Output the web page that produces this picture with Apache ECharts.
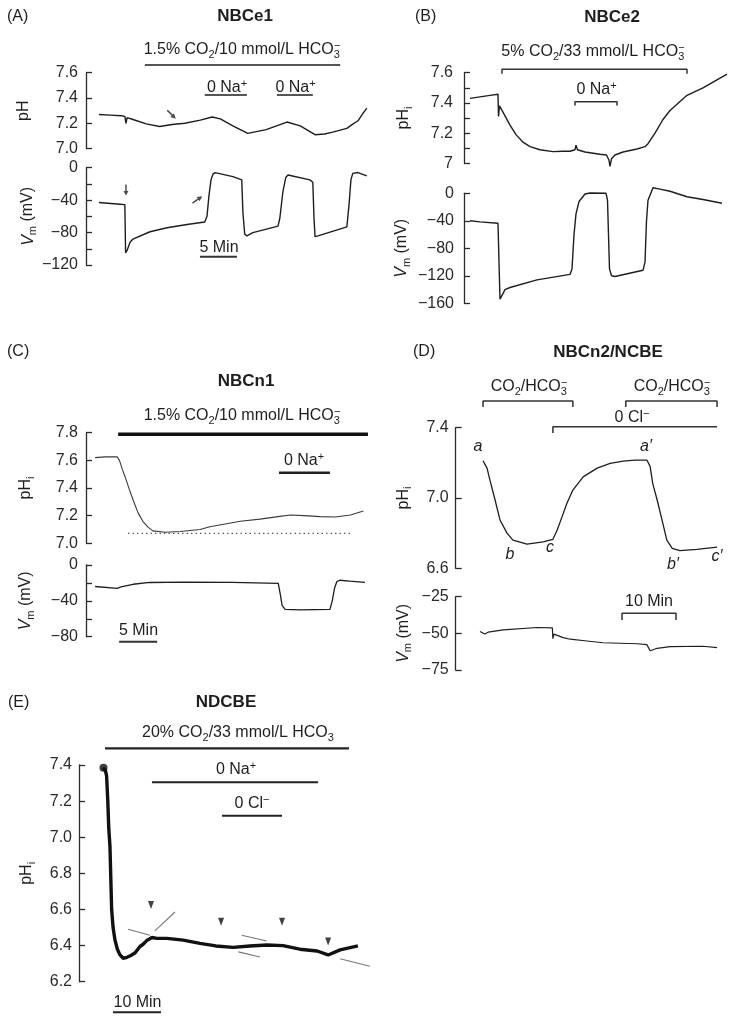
<!DOCTYPE html>
<html><head><meta charset="utf-8">
<script src="https://cdn.jsdelivr.net/npm/echarts@6/dist/echarts.min.js"></script>
<style>html,body{margin:0;padding:0;background:#fff}#c{width:737px;height:1023px}</style>
</head><body><div id="c"></div>
<script>
// ===== DATA (time in min, pH units, membrane potential in mV) =====
// Panel A  NBCe1
const A_pH = [[0,7.27],[1.5,7.265],[3.0,7.26],[3.5,7.255],[3.65,7.20],[3.8,7.245],[4.6,7.23],[6.4,7.195],[8.2,7.175],[9.9,7.19],[11.6,7.20],[13.7,7.225],[15.3,7.25],[16.4,7.235],[18.1,7.18],[20.1,7.12],[22.6,7.15],[25.4,7.21],[27.2,7.18],[29.2,7.11],[30.5,7.115],[31.6,7.13],[33.5,7.16],[34.2,7.19],[35.0,7.22],[35.7,7.28],[36.2,7.32]];
const A_Vm = [[0,-43],[2.84,-45],[3.5,-45.5],[3.6,-105],[3.8,-102],[4.2,-92],[4.6,-88],[6.9,-79],[9.2,-74],[11.9,-70],[14.3,-67],[14.6,-60],[14.86,-35],[15.14,-15],[15.4,-8],[15.7,-6],[18.1,-11],[19.3,-15],[19.45,-55],[19.7,-82],[20.0,-84],[20.8,-80],[24.2,-72],[24.45,-62],[24.85,-30],[25.25,-12],[25.55,-9],[28.5,-15],[28.9,-18],[29.05,-60],[29.2,-85],[29.6,-84],[33.5,-73],[33.8,-45],[34.05,-15],[34.3,-7],[35.0,-6],[36.2,-10]];
const A_arrow_pH = [[9.8,7.27]];
const A_arrow_Vm_down = [[3.65,-27.5]];
const A_arrow_Vm_up = [[13.3,-39.5]];
const A_co2 = [6.2,32.6];
const A_na = [[14.3,20.0],[24.05,28.9]];
const A_scale = [13.65,18.65];
// Panel B  NBCe2
const B_pH = [[0,7.43],[2,7.44],[4,7.45],[5.6,7.457],[5.7,7.31],[5.9,7.38],[6.4,7.35],[8,7.253],[9.2,7.19],[10.6,7.14],[12,7.11],[14,7.09],[16.6,7.077],[18.6,7.08],[20,7.08],[21,7.09],[21.2,7.12],[21.5,7.09],[23,7.075],[26,7.06],[27.3,7.055],[27.8,7.02],[28,6.98],[28.3,7.03],[29,7.055],[30.6,7.075],[33.4,7.095],[35,7.11],[35.6,7.13],[37,7.20],[38.6,7.29],[40,7.35],[43.4,7.45],[46.6,7.50],[51.4,7.59]];
const B_Vm = [[0,-40],[2,-41.5],[5.6,-43.5],[5.8,-100],[6.0,-154],[6.6,-146],[7.0,-140],[8,-137],[13.4,-126],[20,-118],[20.4,-110],[20.8,-60],[21.2,-30],[21.8,-12],[23,-1],[24,0.5],[27.2,0],[27.5,-10],[27.9,-110],[28.3,-120],[29,-121],[34.6,-112],[35.0,-100],[35.3,-40],[35.6,-10],[36.6,8],[38,6],[40,3],[43.4,-5],[46.6,-9],[50.4,-14.5]];
const B_co2 = [6.4,43.4];
const B_na = [21,29.4];
// Panel C  NBCn1
const C_pH = [[0,7.62],[1.3,7.625],[2.9,7.625],[3.2,7.60],[3.55,7.54],[3.95,7.48],[4.5,7.39],[5.0,7.313],[5.65,7.22],[6.3,7.157],[7.0,7.115],[7.6,7.09],[9.2,7.08],[11.2,7.085],[13.8,7.10],[15.1,7.12],[17.1,7.14],[19.1,7.16],[21.7,7.175],[24.3,7.195],[25.7,7.205],[27.5,7.2],[29.6,7.193],[31.6,7.19],[33.6,7.205],[35.3,7.234]];
const C_minLine = [[4.34,7.072],[33.95,7.072]];
const C_Vm = [[0,-24],[2.9,-26],[3.4,-24.5],[5,-21.5],[7.2,-19.5],[12,-19],[18,-19.3],[24.1,-20.5],[24.35,-32],[24.6,-45],[25,-49.5],[27,-50],[30.9,-49.5],[31.2,-40],[31.5,-26],[31.8,-18.6],[32.2,-17],[33.5,-18],[35.5,-19.5]];
const C_co2 = [3.03,35.9];
const C_na = [24.2,30.9];
const C_scale = [3.16,8.16];
// Panel D  NBCn2/NCBE
const D_pH = [[0.56,7.212],[0.93,7.205],[1.3,7.17],[1.85,7.10],[2.78,6.99],[3.7,6.875],[5.0,6.80],[6.1,6.76],[8.7,6.737],[11.7,6.75],[13.5,6.765],[14.3,6.818],[15.2,6.894],[16.1,6.97],[17.2,7.045],[19.1,7.12],[21.7,7.17],[24.1,7.197],[26.5,7.21],[28.7,7.216],[30.9,7.216],[31.5,7.18],[32.0,7.08],[32.8,6.99],[33.7,6.875],[34.6,6.76],[35.6,6.714],[37.0,6.70],[40.2,6.708],[43.9,6.72]];
const D_Vm = [[0,-48.8],[0.9,-50.5],[1.5,-49.2],[4.3,-47.6],[10.6,-46],[13.4,-46.3],[13.5,-53.6],[13.7,-50.5],[15.4,-52.9],[16.7,-54],[19.8,-55.2],[22.8,-56.4],[29.1,-57.1],[30.9,-57.7],[31.5,-61.9],[32.8,-60.2],[35.2,-59],[41.3,-58.8],[43.9,-59.8]];
const D_co2 = [[0.56,17.2],[27.0,43.9]];
const D_cl = [13.5,43.9];
const D_scale = [26.3,36.3];
// Panel E  NDCBE
const E_pH = [[0,7.385],[0.5,7.37],[0.75,7.34],[1.0,7.2],[1.2,7.05],[1.45,6.95],[1.8,6.6],[2.1,6.5],[2.5,6.43],[3.0,6.38],[3.5,6.35],[4.2,6.33],[5.0,6.335],[5.8,6.345],[6.7,6.36],[7.7,6.395],[8.3,6.406],[9.2,6.43],[10.2,6.445],[11.2,6.44],[13.3,6.44],[16.7,6.43],[20.2,6.412],[23.5,6.398],[27.1,6.39],[30.6,6.398],[34.2,6.403],[37.5,6.40],[41,6.38],[44.6,6.37],[46.9,6.348],[49.4,6.376],[53.1,6.398]];
const E_start = [[0.1,7.385]];
const E_marks = [[10,6.625],[24.6,6.532],[37.3,6.532],[46.9,6.422]];
const E_tangents = [[[5.2,6.490],[9.8,6.457]],[[10.8,6.481],[15.0,6.586]],[[28.9,6.457],[34.1,6.425]],[[28.2,6.365],[32.7,6.337]],[[49.4,6.327],[55.6,6.286]]];
const E_co2 = [0.42,51.25];
const E_na = [10.2,44.8];
const E_cl = [24.8,37.3];
const E_scale = [2.08,12.08];

// ===== STYLE / LAYOUT =====
const FF = '"Liberation Sans", Arial, Helvetica, sans-serif';
const INK = '#1e1e1e';
const AX = '#2a2a2a';
const RICH_G = {
  sub: {fontFamily: FF, fontSize: 11, verticalAlign: 'bottom', lineHeight: 10, fill: INK},
  sup: {fontFamily: FF, fontSize: 11, verticalAlign: 'top', lineHeight: 10, fill: INK},
  supk: {fontFamily: FF, fontSize: 11, verticalAlign: 'top', lineHeight: 10, fill: INK, padding: [0, 0, 0, -6]}
};
const RICH_N = {
  sub: {fontFamily: FF, fontSize: 11, verticalAlign: 'bottom', lineHeight: 10, color: INK},
  it: {fontFamily: FF, fontSize: 16, fontStyle: 'italic', lineHeight: 20, color: INK}
};

const grids = [
  {left:86, top:72.7, width:286.75, height:75.9},
  {left:86, top:167.7, width:286.75, height:97.3},
  {left:464, top:72.7, width:266, height:90.6},
  {left:464, top:193.3, width:266, height:110},
  {left:86, top:432.7, width:282.72, height:110.6},
  {left:86, top:565, width:282.72, height:71.7},
  {left:455.7, top:427.7, width:264.6, height:140.6},
  {left:455.7, top:596.7, width:264.6, height:73.3},
  {left:79, top:765, width:292.8, height:216.7}
].map(g => Object.assign({containLabel:false, outerBoundsMode:'none'}, g));
const xr = [[-1.75,37],[-1.75,37],[-1.2,52],[-1.2,52],[-1.2,36],[-1.2,36],[-4.5,44.5],[-4.5,44.5],[-5,56]];
const xAxes = xr.map((r,i) => ({type:'value', gridIndex:i, min:r[0], max:r[1], show:false}));

const minus = s => String(s).replace('-', '\u2212');
const f1 = v => v.toFixed(1);
function yAx(g, min, max, interval, fmt, name, nameGap, margin) {
  return {type:'value', gridIndex:g, min, max, interval, position:'left',
    axisLine:{show:true, onZero:false, lineStyle:{color:AX, width:1.3}},
    axisTick:{show:true, inside:true, length:6, lineStyle:{color:AX, width:1.3}},
    splitLine:{show:false},
    axisLabel:{show:true, margin, fontFamily:FF, fontSize:16, color:AX, formatter:fmt},
    name, nameLocation:'middle', nameGap, nameRotate:90,
    nameTextStyle:{fontFamily:FF, fontSize:16, color:INK, lineHeight:20, rich:RICH_N}};
}
const yAxes = [
  yAx(0, 7.0, 7.6, 0.2, f1, 'pH', 52, 8),
  yAx(1, -120, 0, 20, v => (Math.round(v) % 40 === 0 ? minus(Math.round(v)) : ''), '{it|V}{sub|m} (mV)', 47, 8),
  yAx(2, 7.0, 7.6, 0.1, v => (Math.round(v*10) % 2 === 0 ? (Math.abs(v-7) < 1e-6 ? '7' : f1(v)) : ''), 'pH{sub|i}', 50, 11),
  yAx(3, -160, 0, 40, v => minus(Math.round(v)), '{it|V}{sub|m} (mV)', 52, 10),
  yAx(4, 7.0, 7.8, 0.2, f1, 'pH{sub|i}', 50, 8),
  yAx(5, -80, 0, 20, v => (Math.round(v) % 40 === 0 ? minus(Math.round(v)) : ''), '{it|V}{sub|m} (mV)', 50, 8),
  yAx(6, 6.6, 7.4, 0.4, f1, 'pH{sub|i}', 42, 7),
  yAx(7, -75, -25, 25, v => minus(Math.round(v)), '{it|V}{sub|m} (mV)', 42, 7),
  yAx(8, 6.2, 7.4, 0.2, f1, 'pH{sub|i}', 42, 7)
];

function line(g, data, color, width, extra) {
  return Object.assign({type:'line', xAxisIndex:g, yAxisIndex:g, data, symbol:'none', showSymbol:false,
    clip:false, silent:true, animation:false, lineStyle:{color, width}, z:3}, extra || {});
}
function bar(g, iv, y, tick, w, color, ends) {
  const a = iv[0], b = iv[1];
  let d;
  if (!tick) d = [[a,y],[b,y]];
  else if (ends === 'left') d = [[a,y-tick],[a,y],[b,y]];
  else d = [[a,y-tick],[a,y],[b,y],[b,y-tick]];
  return line(g, d, color, w, {z:2});
}
const ARROW = 'path://M2,0 L4,5 L2.6,5 L2.6,12 L1.4,12 L1.4,5 L0,5 Z';
function marks(g, data, symbol, size, rot, color) {
  return {type:'scatter', xAxisIndex:g, yAxisIndex:g, data, symbol, symbolSize:size, symbolRotate:rot,
    clip:false, silent:true, animation:false, itemStyle:{color}, z:4};
}

const series = [
  // A
  line(0, A_pH, INK, 1.4), line(1, A_Vm, INK, 1.4),
  bar(0, A_co2, 7.661, 0, 2.2, '#555'),
  bar(0, A_na[0], 7.424, 0, 2, '#555'), bar(0, A_na[1], 7.424, 0, 2, '#555'),
  bar(1, A_scale, -109.9, 0, 2, '#333'),
  marks(0, A_arrow_pH, ARROW, [5,12], 225, INK),
  marks(1, A_arrow_Vm_down, ARROW, [5,11], 180, INK),
  marks(1, A_arrow_Vm_up, ARROW, [5,12], 305, INK),
  // B
  line(2, B_pH, INK, 1.4), line(3, B_Vm, INK, 1.4),
  bar(2, B_co2, 7.623, 0.03, 1.5, '#333'),
  bar(2, B_na, 7.408, 0.025, 1.5, '#333'),
  // C
  line(4, C_pH, '#3a3a3a', 1.1), line(5, C_Vm, INK, 1.3),
  line(4, C_minLine, '#444', 1.3, {lineStyle:{color:'#444', width:1.3, type:[1.3,3.2]}}),
  bar(4, C_co2, 7.788, 0, 3.5, '#111'),
  bar(4, C_na, 7.51, 0, 2.5, '#222'),
  bar(5, C_scale, -85.6, 0, 2, '#333'),
  // D
  line(6, D_pH, INK, 1.3), line(7, D_Vm, INK, 1.2),
  bar(6, D_co2[0], 7.552, 0.034, 1.5, '#333'), bar(6, D_co2[1], 7.552, 0.034, 1.5, '#333'),
  bar(6, D_cl, 7.406, 0.036, 1.5, '#333', 'left'),
  bar(7, D_scale, -36.3, 4.6, 1.5, '#333'),
  // E
  line(8, E_pH, '#111', 3.4),
  marks(8, E_start, 'circle', 8, 0, '#111'),
  marks(8, E_marks, 'triangle', [6,8], 180, '#111'),
  bar(8, E_co2, 7.4925, 0, 2.2, '#222'),
  bar(8, E_na, 7.304, 0, 2, '#222'),
  bar(8, E_cl, 7.119, 0, 2, '#222'),
  bar(8, E_scale, 6.031, 0, 2, '#222')
].concat(E_tangents.map(seg => line(8, seg, '#777', 1.1, {z:2})));

function txt(text, x, y, o) {
  return {type:'text', x, y, silent:true, z:10,
    style:Object.assign({text, fontSize:16, fontFamily:FF, fill:INK, align:'center', verticalAlign:'middle', lineHeight:20, rich:RICH_G}, o || {})};
}
const B = {fontWeight:'bold', fontSize:17};
const L = {align:'left'};
const I = {fontStyle:'italic'};
const graphics = [
  txt('(A)', 7, 17, L), txt('(B)', 415, 17, L), txt('(C)', 7, 352, L), txt('(D)', 413, 352, L), txt('(E)', 8, 703, L),
  txt('NBCe1', 245, 16, B), txt('NBCe2', 612, 17, B), txt('NBCn1', 246, 381, B), txt('NBCn2/NCBE', 608, 352, B), txt('NDCBE', 226, 702, B),
  txt('1.5% CO{sub|2}/10 mmol/L HCO{sub|3}{supk|\u2212}', 242, 50),
  txt('0 Na{sup|+}', 227, 88), txt('0 Na{sup|+}', 295.5, 88), txt('5 Min', 219, 248),
  txt('5% CO{sub|2}/33 mmol/L HCO{sub|3}{supk|\u2212}', 593, 52), txt('0 Na{sup|+}', 596.5, 90),
  txt('1.5% CO{sub|2}/10 mmol/L HCO{sub|3}{supk|\u2212}', 242, 416), txt('0 Na{sup|+}', 304, 461), txt('5 Min', 138.5, 631),
  txt('CO{sub|2}/HCO{sub|3}{supk|\u2212}', 529, 387), txt('CO{sub|2}/HCO{sub|3}{supk|\u2212}', 672, 387),
  txt('0 Cl{sup|\u2212}', 632, 418), txt('10 Min', 649, 602),
  txt('a', 478, 447, I), txt('b', 510, 555, I), txt('c', 550, 548, I),
  txt('a\u2032', 646, 447, I), txt('b\u2032', 673, 565, I), txt('c\u2032', 717, 557, I),
  txt('20% CO{sub|2}/33 mmol/L HCO{sub|3}', 238, 733), txt('0 Na{sup|+}', 236, 770), txt('0 Cl{sup|\u2212}', 252, 804),
  txt('10 Min', 137.5, 1003)
];

const chart = echarts.init(document.getElementById('c'), null, {renderer:'canvas'});
chart.setOption({
  animation:false,
  backgroundColor:'#fff',
  textStyle:{fontFamily:FF},
  grid:grids, xAxis:xAxes, yAxis:yAxes, series, graphic:graphics
});
</script></body></html>
